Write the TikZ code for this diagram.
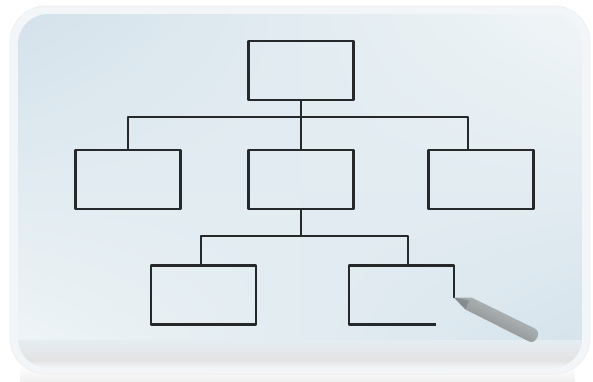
\documentclass[tikz,border=0pt]{standalone}
\usepackage[x11names]{xcolor}
\usetikzlibrary{positioning, calc, shadings}

\definecolor{boardblue}{RGB}{212,226,235}
\definecolor{boardpale}{RGB}{240,245,247}
\definecolor{boardedge}{RGB}{243,246,248}
\definecolor{inkgray}{RGB}{38,40,42}
\definecolor{penlight}{RGB}{196,201,203}
\definecolor{pendark}{RGB}{118,124,127}

\begin{document}
\begin{tikzpicture}[x=1pt, y=-1pt, node distance=68pt,
    chart/.style={draw=inkgray, line width=2.4pt, line join=round, minimum width=105pt, minimum height=59pt, inner sep=0pt, outer sep=0pt},
    link/.style={draw=inkgray, line width=2.2pt, line join=round}]
    \useasboundingbox (0,0) rectangle (593,381);

    % board
    \shade[top color=white, bottom color=gray!12] (20,366) rectangle (575,381);
    \filldraw[rounded corners=36pt, fill=boardedge, draw=gray!15, line width=0.6pt] (10,6) rectangle (590,374);
    \shade[rounded corners=30pt, upper left=boardblue, upper right=boardpale, lower left=boardpale, lower right=boardblue] (18,14) rectangle (582,368);
    \begin{scope}
        \clip[rounded corners=30pt] (18,14) rectangle (582,368);
        \shade[top color=boardblue!40!boardpale, bottom color=gray!22] (18,340) rectangle (582,360);
        \shade[top color=gray!22, bottom color=boardedge] (18,360) rectangle (582,368);
    \end{scope}

    % chart
    \node[chart] (head) at (301,70.5) {};
    \node[chart] (mid) at (301,179.5) {};
    \node[chart, left=of mid] (left) {};
    \node[chart, right=75pt of mid] (right) {};
    \node[chart] (subl) at (203.5,295) {};
    \node[chart, draw=none, right=93pt of subl] (subr) {};

    \coordinate (hubA) at ($(head.south)+(0,17)$);
    \coordinate (hubB) at ($(mid.south)+(0,27)$);

    \draw[link] (head.south) -- (mid.north);
    \draw[link] (left.north) |- (hubA) -| ($(right.north)+(-13,0)$);
    \draw[link] (mid.south) -- (hubB);
    \draw[link] ($(subl.north)+(-2.5,0)$) |- (hubB) -| ($(subr.north)+(6.5,0)$);

    % box still being drawn
    \draw[chart] ($(subr.south east)+(-18,0)$) -- (subr.south west) -- (subr.north west) -- (subr.north east) -- ($(subr.north east)+(0,32)$) coordinate (tip);

    % marker
    \shade[top color=penlight, bottom color=pendark, shading angle=-27]
        (tip) -- (471.5,297.5) [rounded corners=6pt] -- (540,331) -- (534,344) [sharp corners] -- (465.5,309.5) -- cycle;
    \fill[pendark, opacity=0.6] (tip) -- (469,300.5) -- (465.5,309.5) -- cycle;
\end{tikzpicture}
\end{document}
